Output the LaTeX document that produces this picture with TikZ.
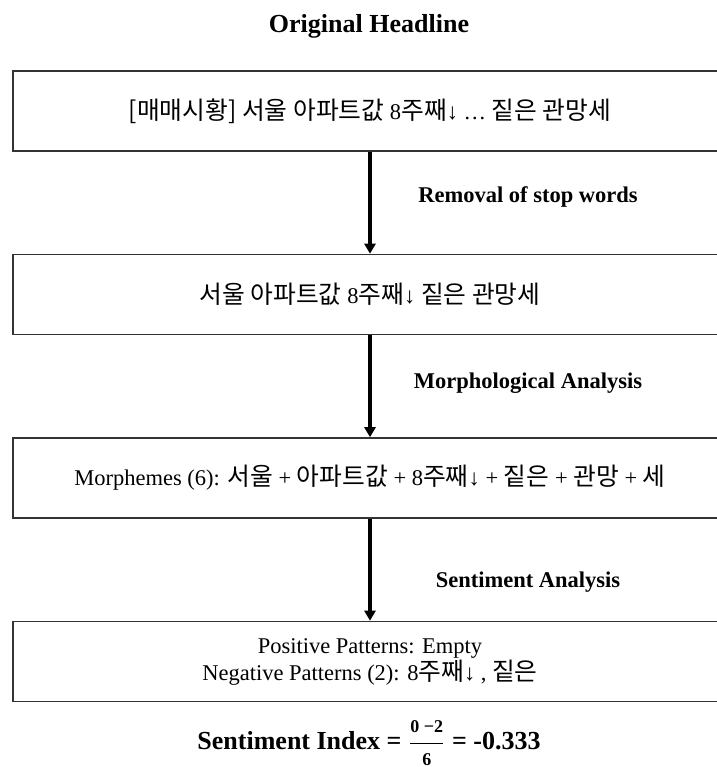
\documentclass[tikz,border=0pt]{standalone}
\usepackage{amsmath}
\usepackage{fontspec}
\setmainfont{Liberation Serif}
\newfontfamily\kor[Scale=1.1]{Noto Sans CJK KR}
\usetikzlibrary{arrows.meta}

\begin{document}
\begin{tikzpicture}[x=0.5pt,y=-0.5pt]
\tikzstyle{stage} = [rectangle, draw=black!80, line width=0.8pt, minimum width=357pt, minimum height=40pt, align=center, font=\fontsize{11.25}{13.5}\selectfont]
\tikzstyle{method} = [font=\fontsize{11.25}{13.5}\selectfont\bfseries]
\tikzstyle{heading} = [font=\fontsize{13}{15}\selectfont\bfseries]
\tikzstyle{flow} = [line width=1.6pt, -{Triangle[width=5.5pt,length=5pt]}]

\useasboundingbox (0,0) rectangle (717,767);
\node(title) [heading] at (369,26) {Original Headline};
\node(headline) [stage] at (370,111) {{\kor [매매시황] 서울 아파트값} 8{\kor 주째}↓ … {\kor 짙은 관망세}};
\node(cleaned) [stage] at (370,294.5) {{\kor 서울 아파트값} 8{\kor 주째}↓ {\kor 짙은 관망세}};
\node(morphemes) [stage] at (370,478) {Morphemes (6): {\kor 서울} + {\kor 아파트값} + 8{\kor 주째}↓ + {\kor 짙은} + {\kor 관망} + {\kor 세}};
\node(patterns) [stage] at (370,661.5) {Positive Patterns: Empty\\Negative Patterns (2): 8{\kor 주째}↓ , {\kor 짙은}};
\node(stopwords) [method] at (528,197) {Removal of stop words};
\node(morphology) [method] at (528,383) {Morphological Analysis};
\node(sentiment) [method] at (528,582) {Sentiment Analysis};
\node(index) [heading, anchor=base] at (369,749) {Sentiment Index = $\dfrac{\text{\fontsize{9}{9}\selectfont 0 −2}}{\text{\fontsize{9}{9}\selectfont 6}}$ = -0.333};
\draw[flow] (headline) -- (cleaned);
\draw[flow] (cleaned) -- (morphemes);
\draw[flow] (morphemes) -- (patterns);
\end{tikzpicture}
\end{document}
